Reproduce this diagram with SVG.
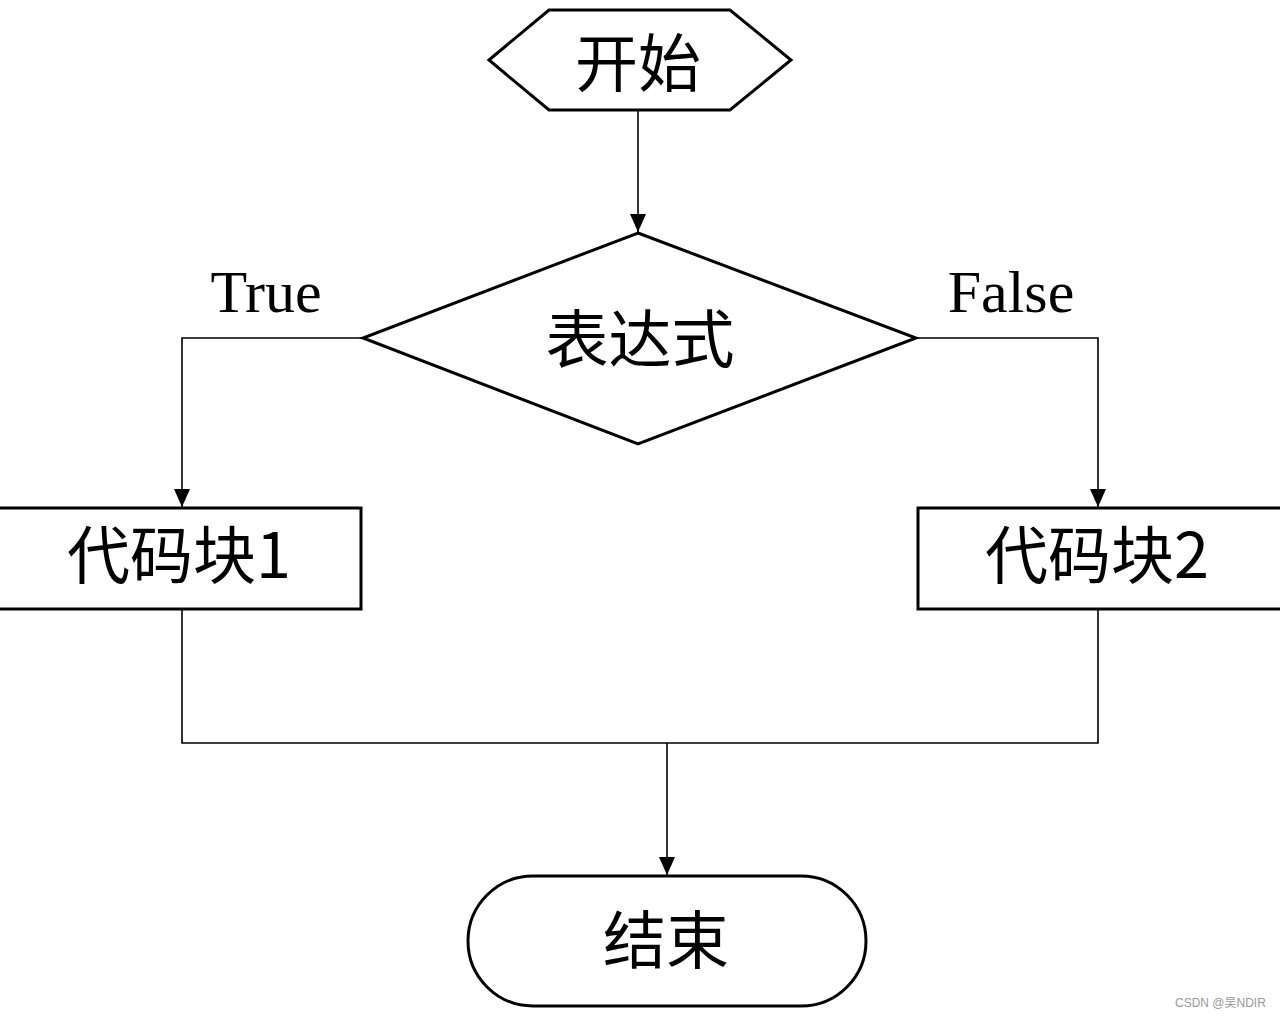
<svg xmlns="http://www.w3.org/2000/svg" width="1280" height="1018" viewBox="0 0 1280 1018">
<style>
.shape{fill:#fff;stroke:#000;stroke-width:3}
.conn{fill:none;stroke:#000;stroke-width:1.6}
.cjk{font-family:"Noto Sans CJK SC","Noto Sans",sans-serif;font-size:63px;fill:#000;text-anchor:middle;dominant-baseline:central}
.lbl{font-family:"Liberation Serif",serif;font-size:60px;fill:#000;text-anchor:middle}
.wm{font-family:"Liberation Sans","Noto Sans CJK SC",sans-serif;font-size:12px;fill:#999}
</style>
<defs>
<marker id="arr" viewBox="0 0 18 16" refX="18" refY="8" markerWidth="18" markerHeight="16" markerUnits="userSpaceOnUse" orient="auto">
<path d="M0,0 L18,8 L0,16 Z" fill="#000"/>
</marker>
</defs>
<rect width="1280" height="1018" fill="#fff"/>
<g id="connectors">
<line class="conn" x1="638" y1="110" x2="638" y2="232" marker-end="url(#arr)"/>
<polyline class="conn" points="362,338 182,338 182,507" marker-end="url(#arr)"/>
<polyline class="conn" points="917,338 1098,338 1098,507" marker-end="url(#arr)"/>
<polyline class="conn" points="182,609 182,743 1098,743 1098,609"/>
<line class="conn" x1="667" y1="743" x2="667" y2="875" marker-end="url(#arr)"/>
</g>
<g id="start">
<polygon class="shape" points="489,60 549,10 730,10 791,60 730,110 549,110"/>
<text class="cjk" x="638" y="58">开始</text>
</g>
<g id="decision">
<polygon class="shape" points="638,233 916,338 638,444 363,338"/>
<text class="cjk" x="640" y="334">表达式</text>
</g>
<g id="block1">
<rect class="shape" x="-2" y="508" width="363" height="101"/>
<text class="cjk" x="179" y="550">代码块1</text>
</g>
<g id="block2">
<rect class="shape" x="918" y="508" width="365" height="101"/>
<text class="cjk" x="1097" y="550">代码块2</text>
</g>
<g id="end">
<rect class="shape" x="468" y="876" width="398" height="130" rx="65" ry="65"/>
<text class="cjk" x="666" y="935">结束</text>
</g>
<text class="lbl" x="266" y="312">True</text>
<text class="lbl" x="1011" y="312">False</text>
<text class="wm" x="1175" y="1007">CSDN @吴NDIR</text>
</svg>
